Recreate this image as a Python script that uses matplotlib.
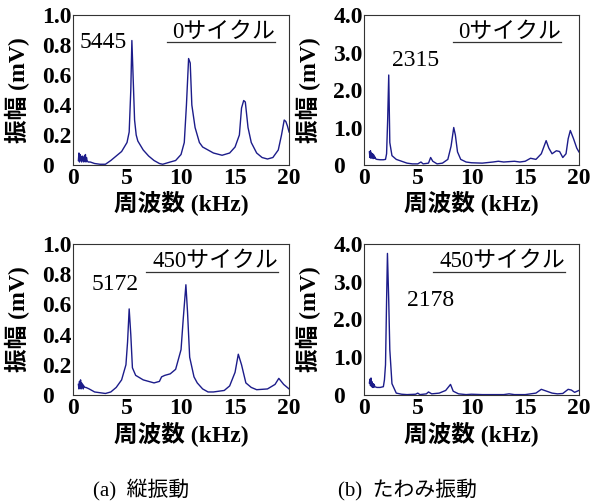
import matplotlib
matplotlib.use("Agg")
import matplotlib.pyplot as plt
from matplotlib.ticker import FuncFormatter

plt.rcParams['font.family'] = ['Liberation Serif', 'Noto Sans CJK JP']

# (a) longitudinal, 0 cycles
a0_f = [0.5, 0.55, 0.6, 0.65, 0.7, 0.75, 0.8, 0.85, 0.9, 0.95, 1.0, 1.05, 1.1, 1.15, 1.2, 1.25, 1.3,
        1.4, 1.6, 1.8, 2.0, 2.5, 3.0, 3.5, 4.0, 4.5, 5.0, 5.2, 5.35, 5.45, 5.55, 5.7, 5.85, 6.0, 6.5,
        7.0, 7.5, 8.0, 8.3, 9.0, 9.5, 10.0, 10.3, 10.5, 10.7, 10.85, 11.0, 11.3, 11.7, 12.0, 12.5,
        13.0, 13.8, 14.5, 15.0, 15.4, 15.6, 15.8, 15.95, 16.2, 16.5, 17.0, 17.5, 18.0, 18.5, 19.0,
        19.3, 19.55, 19.7, 19.85, 20.0]
a0_v = [0.03, 0.08, 0.02, 0.07, 0.03, 0.05, 0.02, 0.06, 0.03, 0.05, 0.02, 0.06, 0.03, 0.07, 0.02, 0.05, 0.03,
        0.02, 0.02, 0.015, 0.01, 0.005, 0.005, 0.03, 0.06, 0.09, 0.15, 0.22, 0.5, 0.83, 0.62, 0.3, 0.2, 0.16, 0.1,
        0.06, 0.03, 0.01, 0.005, 0.02, 0.03, 0.07, 0.15, 0.4, 0.71, 0.68, 0.4, 0.25, 0.15, 0.12, 0.1,
        0.08, 0.065, 0.08, 0.12, 0.2, 0.38, 0.43, 0.42, 0.25, 0.15, 0.08, 0.05, 0.04, 0.05, 0.1,
        0.2, 0.3, 0.29, 0.26, 0.22]

# (b) flexural, 0 cycles
b0_f = [0.5, 0.55, 0.6, 0.65, 0.7, 0.75, 0.8, 0.85, 0.9, 0.95, 1.0, 1.1, 1.2, 1.5, 1.8, 2.0, 2.1, 2.2,
        2.3, 2.4, 2.6, 3.0, 3.5, 4.0, 4.5, 5.0, 5.3, 5.5, 6.0, 6.2, 6.4, 6.8, 7.3, 7.8, 8.1, 8.35,
        8.5, 8.7, 9.0, 9.5, 10.0, 11.0, 12.0, 12.5, 13.0, 14.0, 14.5, 15.0, 15.5, 16.0, 16.5, 16.95,
        17.2, 17.5, 17.9, 18.2, 18.5, 18.8, 19.0, 19.2, 19.5, 19.8, 20.0]
b0_v = [0.35, 0.2, 0.38, 0.18, 0.32, 0.2, 0.3, 0.17, 0.27, 0.18, 0.22, 0.16, 0.15, 0.14, 0.14, 0.15, 0.3, 1.2,
        2.4, 0.6, 0.25, 0.15, 0.1, 0.05, 0.03, 0.03, 0.08, 0.03, 0.05, 0.2, 0.1, 0.03, 0.05, 0.15, 0.5, 1.0,
        0.8, 0.35, 0.15, 0.08, 0.06, 0.05, 0.08, 0.1, 0.08, 0.1, 0.08, 0.1, 0.18, 0.15, 0.3, 0.65,
        0.45, 0.3, 0.38, 0.36, 0.2, 0.3, 0.7, 0.92, 0.7, 0.45, 0.35]

# (a) longitudinal, 450 cycles
a4_f = [0.5, 0.55, 0.6, 0.65, 0.7, 0.75, 0.8, 0.85, 0.9, 0.95, 1.0, 1.1, 1.2, 1.5, 2.0, 3.0, 3.5, 4.0,
        4.5, 4.9, 5.05, 5.2, 5.35, 5.5, 5.8, 6.5, 7.0, 7.5, 8.0, 8.2, 8.5, 9.0, 9.5, 10.0, 10.2, 10.45,
        10.6, 10.8, 11.2, 11.5, 12.0, 12.5, 13.0, 14.0, 14.5, 15.0, 15.3, 15.6, 16.0, 16.5, 17.0, 18.0,
        18.7, 19.05, 19.5, 20.0]
a4_v = [0.07, 0.04, 0.09, 0.05, 0.1, 0.04, 0.08, 0.05, 0.07, 0.04, 0.06, 0.05, 0.05, 0.04, 0.02, 0.01, 0.02, 0.05,
        0.1, 0.2, 0.35, 0.57, 0.4, 0.18, 0.13, 0.1, 0.09, 0.08, 0.09, 0.12, 0.13, 0.14, 0.17, 0.3, 0.5, 0.73,
        0.55, 0.25, 0.12, 0.08, 0.04, 0.02, 0.02, 0.03, 0.06, 0.15, 0.27, 0.2, 0.08, 0.05, 0.035, 0.04,
        0.07, 0.11, 0.07, 0.04]

# (b) flexural, 450 cycles
b4_f = [0.5, 0.55, 0.6, 0.65, 0.7, 0.75, 0.8, 0.85, 0.9, 0.95, 1.0, 1.2, 1.5, 1.8, 1.9, 2.0, 2.1, 2.18,
        2.3, 2.4, 2.6, 3.0, 3.5, 4.0, 4.8, 5.0, 5.2, 5.8, 6.0, 6.3, 7.0, 7.6, 8.05, 8.3, 8.8, 9.5,
        10.0, 11.0, 12.0, 13.0, 13.5, 14.0, 15.0, 16.0, 16.5, 17.0, 17.5, 18.0, 18.5, 19.0, 19.3, 19.6, 20.0]
b4_v = [0.32, 0.42, 0.25, 0.45, 0.22, 0.35, 0.2, 0.3, 0.2, 0.28, 0.22, 0.2, 0.2, 0.22, 0.4, 0.8, 2.5, 3.75,
        2.5, 1.2, 0.3, 0.05, 0.02, 0.01, 0.02, 0.05, 0.01, 0.03, 0.08, 0.03, 0.05, 0.12, 0.28, 0.1, 0.03, 0.01,
        0.02, 0.01, 0.01, 0.01, 0.03, 0.01, 0.01, 0.05, 0.15, 0.1, 0.05, 0.03, 0.04, 0.15, 0.13, 0.07, 0.12]

panels = [
    # rect, f, v, ymax, yticks, peak label, peak pos, cycle label, cycle pos, underline
    ([0.1233, 0.6726, 0.365, 0.2976], a0_f, a0_v, 1.0, [0, 0.2, 0.4, 0.6, 0.8, 1.0],
     "5445", (4.95, 0.82), "0サイクル", (18.7, 0.885), (8.7, 18.7, 0.817)),
    ([0.6149, 0.6726, 0.363, 0.2976], b0_f, b0_v, 4.0, [0, 1, 2, 3, 4],
     "2315", (2.6, 2.79), "0サイクル", (18.3, 3.54), (8.3, 18.3, 3.27)),
    ([0.1233, 0.2163, 0.365, 0.2996], a4_f, a4_v, 1.0, [0, 0.2, 0.4, 0.6, 0.8, 1.0],
     "5172", (1.7, 0.73), "450サイクル", (19.0, 0.885), (6.8, 19.0, 0.817)),
    ([0.6149, 0.2163, 0.363, 0.2996], b4_f, b4_v, 4.0, [0, 1, 2, 3, 4],
     "2178", (4.0, 2.49), "450サイクル", (18.7, 3.54), (6.4, 18.7, 3.27)),
]

fig = plt.figure(figsize=(5.92, 5.04), dpi=100)

for i, (rect, f, v, ymax, yt, pk, pkpos, cyc, cycpos, ul) in enumerate(panels):
    ax = fig.add_axes(rect)
    ax.plot(f, v, color="#1c1c8a", lw=1.0)
    ax.set_xlim(0, 20)
    ax.set_ylim(0, ymax)
    ax.set_xticks([0, 5, 10, 15, 20])
    ax.set_yticks(yt)
    ax.yaxis.set_major_formatter(FuncFormatter(lambda y, p: "0" if y == 0 else "%.1f" % y))
    ax.tick_params(length=0, labelsize=17)
    ax.tick_params(axis="x", pad=2)
    ax.tick_params(axis="y", pad=22)
    for lab in ax.get_xticklabels() + ax.get_yticklabels():
        lab.set_fontweight("bold")
    for lab in ax.get_yticklabels():
        lab.set_horizontalalignment("left")
    for s in ax.spines.values():
        s.set_color("#333333")
        s.set_linewidth(0.8)
    ax.set_xlabel("周波数 (kHz)", fontsize=17, fontweight="bold")
    ax.set_ylabel("振幅 (mV)", fontsize=17, fontweight="bold")
    ax.xaxis.set_label_coords(0.5, -0.17)
    ax.yaxis.set_label_coords(-0.2, 0.5)
    ha = "right" if i == 0 else "left"
    ax.text(pkpos[0], pkpos[1], pk, fontsize=17, ha=ha, va="center")
    ax.text(cycpos[0], cycpos[1], cyc, fontsize=16.5, ha="right", va="center")
    ax.plot([ul[0], ul[1]], [ul[2], ul[2]], color="#333333", lw=0.9)

fig.text(0.157, 0.028, "(a)  縦振動", fontsize=15, ha="left", va="center")
fig.text(0.571, 0.028, "(b)  たわみ振動", fontsize=15, ha="left", va="center")

fig.savefig("out.png", dpi=100)
